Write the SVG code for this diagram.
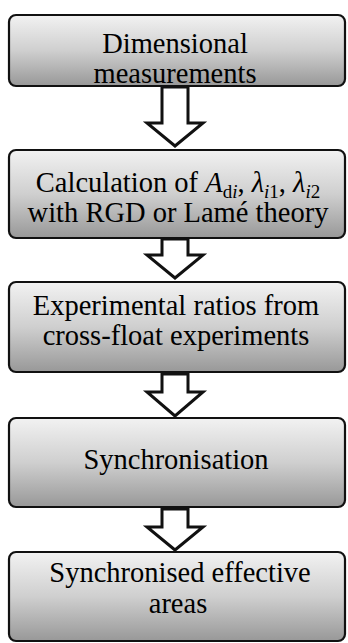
<svg xmlns="http://www.w3.org/2000/svg" width="348" height="643" viewBox="0 0 348 643">
<defs>
<linearGradient id="g" x1="0" y1="0" x2="0" y2="1">
<stop offset="0" stop-color="#f2f2f2"/>
<stop offset="0.5" stop-color="#cfcfcf"/>
<stop offset="1" stop-color="#989898"/>
</linearGradient>
<style>
.box{fill:url(#g);stroke:#111;stroke-width:2.2}
.t{font-family:'Liberation Serif',serif;font-size:28.5px;fill:#000;text-anchor:middle}
.arr{fill:#fff;stroke:#111;stroke-width:3;stroke-linejoin:miter}
.i{font-style:italic}
.s{font-size:19px}
</style>
</defs>
<rect width="348" height="643" fill="#fff"/>
<g id="connectors">
<polygon class="arr" points="162,87 188,87 188,123 203,123 175,146 147,123 162,123"/>
<polygon class="arr" points="162,239 188,239 188,255 203,255 175,278 147,255 162,255"/>
<polygon class="arr" points="162,374 188,374 188,392 203,392 175,416 147,392 162,392"/>
<polygon class="arr" points="162,509 188,509 188,527 203,527 175,550 147,527 162,527"/>
</g>
<g id="n1">
<rect class="box" x="9" y="15" width="336" height="71" rx="7"/>
<text class="t" x="175" y="53">Dimensional</text>
<text class="t" x="175" y="83">measurements</text>
</g>
<g id="n2">
<rect class="box" x="9" y="150" width="336" height="88" rx="7"/>
<text class="t" x="178" y="192">Calculation of <tspan class="i">A</tspan><tspan class="s" dy="6">d</tspan><tspan class="s i">i</tspan><tspan dy="-6">, </tspan><tspan class="i">λ</tspan><tspan class="s i" dy="6">i</tspan><tspan class="s">1</tspan><tspan dy="-6">, </tspan><tspan class="i">λ</tspan><tspan class="s i" dy="6">i</tspan><tspan class="s">2</tspan></text>
<text class="t" x="178" y="222">with RGD or Lamé theory</text>
</g>
<g id="n3">
<rect class="box" x="9" y="282" width="336" height="90" rx="7"/>
<text class="t" x="176" y="315">Experimental ratios from</text>
<text class="t" x="176" y="345">cross-float experiments</text>
</g>
<g id="n4">
<rect class="box" x="9" y="418" width="336" height="89" rx="7"/>
<text class="t" x="176" y="469">Synchronisation</text>
</g>
<g id="n5">
<rect class="box" x="9" y="552" width="336" height="89" rx="7"/>
<text class="t" x="180" y="582">Synchronised effective</text>
<text class="t" x="178" y="613">areas</text>
</g>
</svg>
